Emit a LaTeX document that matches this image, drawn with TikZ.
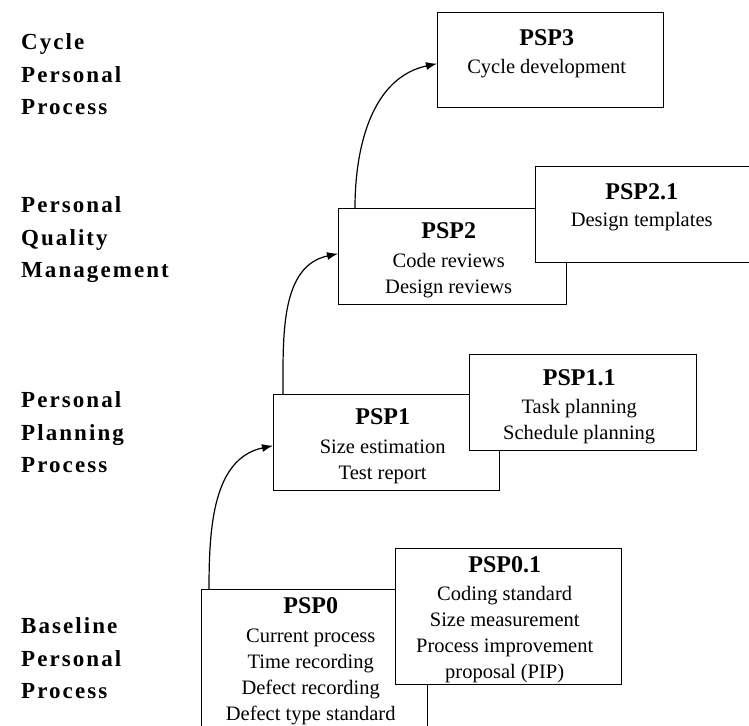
\documentclass[tikz,border=0pt]{standalone}
\usepackage{fontspec}
\setmainfont{Liberation Serif}
\newfontfamily\lblfont[LetterSpace=9]{Liberation Serif}
\usetikzlibrary{arrows.meta,calc}
\newcommand{\psptitle}[1]{{\fontsize{24}{26}\selectfont\bfseries #1}}
\begin{document}
\begin{tikzpicture}[x=1pt,y=-1pt,
  box/.style={draw=black,line width=1.4pt,fill=white,inner sep=0pt,anchor=north west},
  btext/.style={anchor=north,inner sep=0pt,align=center,font=\fontsize{20.5}{26}\selectfont},
  lbl/.style={anchor=north west,inner sep=0pt,align=left,font=\lblfont\bfseries\fontsize{23}{32.5}\selectfont},
  conn/.style={line width=1.2pt,-{Latex[length=11pt,width=8pt]}}]
\useasboundingbox[fill=white] (0,0) rectangle (749,725);

% level labels
\node[lbl] (l3) at (21,33.5) {Cycle\\Personal\\Process};
\node[lbl] (l2) at (21,196.5) {Personal\\Quality\\Management};
\node[lbl] (l1) at (21,391.5) {Personal\\Planning\\Process};
\node[lbl] (l0) at (21,617.5) {Baseline\\Personal\\Process};

% boxes
\node[box,minimum width=226pt,minimum height=141pt] (p0) at (201,589) {};
\node[box,minimum width=226pt,minimum height=136pt] (p01) at (395,548) {};
\node[box,minimum width=226pt,minimum height=96pt] (p1) at (273,394) {};
\node[box,minimum width=227pt,minimum height=96pt] (p11) at (469,354) {};
\node[box,minimum width=228pt,minimum height=96pt] (p2) at (338,208) {};
\node[box,minimum width=220pt,minimum height=96pt] (p21) at (535,166) {};
\node[box,minimum width=226pt,minimum height=95pt] (p3) at (437,12) {};

% box texts
\node[btext] (t0) at ($(p0.north)+(-4,8)$) {\psptitle{PSP0}\\[3pt]Current process\\Time recording\\Defect recording\\Defect type standard};
\node[btext] (t01) at ($(p01.north)+(-4,8)$) {\psptitle{PSP0.1}\\[2pt]Coding standard\\Size measurement\\Process improvement\\proposal (PIP)};
\node[btext] (t1) at ($(p1.north)+(-4,14)$) {\psptitle{PSP1}\\[3pt]Size estimation\\Test report};
\node[btext] (t11) at ($(p11.north)+(-4,15)$) {\psptitle{PSP1.1}\\[2pt]Task planning\\Schedule planning};
\node[btext] (t2) at ($(p2.north)+(-4,14)$) {\psptitle{PSP2}\\[3pt]Code reviews\\Design reviews};
\node[btext] (t21) at ($(p21.north)+(-4,17)$) {\psptitle{PSP2.1}\\[1pt]Design templates};
\node[btext] (t3) at ($(p3.north)+(-4,17)$) {\psptitle{PSP3}\\[2pt]Cycle development};

% connectors
\draw[conn] ($(p0.north west)+(8,0)$) to[out=90,in=192] ($(p1.west)+(0,3)$);
\draw[conn] ($(p1.north west)+(10,0)$) to[out=90,in=192] ($(p2.west)+(0,-3)$);
\draw[conn] ($(p2.north west)+(17,0)$) to[out=90,in=192] ($(p3.west)+(0,3.5)$);
\end{tikzpicture}
\end{document}
